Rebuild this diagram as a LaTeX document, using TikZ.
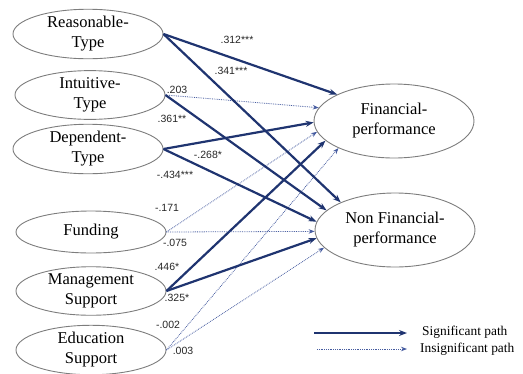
\documentclass[tikz,border=0pt]{standalone}
\usepackage{fontspec}
\setmainfont{Liberation Serif}
\newfontfamily\lblfont{Liberation Sans}
\usetikzlibrary{shapes.geometric,arrows.meta}
\definecolor{navy}{RGB}{31,52,112}
\definecolor{lnavy}{RGB}{70,92,160}
\definecolor{egray}{RGB}{125,125,125}
\tikzset{
  lvar/.style={ellipse,draw=egray,line width=0.9pt,minimum width=150pt,minimum height=42pt,inner sep=0pt,align=center,font=\fontsize{16.5}{20}\selectfont},
  rvar/.style={ellipse,draw=egray,line width=0.9pt,minimum width=160pt,minimum height=74pt,inner sep=0pt,align=center,font=\fontsize{16.5}{20}\selectfont},
  sig/.style={draw=navy,line width=2.2pt,-{Stealth[length=8pt,width=6pt]}},
  insig/.style={draw=lnavy,line width=0.8pt,densely dotted,-{Stealth[length=6pt,width=4.5pt]}},
  coef/.style={font=\lblfont\fontsize{10.5}{12}\selectfont,text=black!85,inner sep=0pt},
  legtext/.style={font=\fontsize{13.4}{15}\selectfont,anchor=west,inner sep=0pt}
}
\begin{document}
\begin{tikzpicture}[x=1pt,y=-1pt]
\useasboundingbox (0,0) rectangle (523,373);
% left variables
\node[lvar] (rea) at (88,34) {Reasonable-\\Type};
\node[lvar] (int) at (90,95) {Intuitive-\\Type};
\node[lvar] (dep) at (88,149) {Dependent-\\Type};
\node[lvar] (fun) at (91,232) {Funding};
\node[lvar] (man) at (91,291) {Management\\Support};
\node[lvar] (edu) at (91,350) {Education\\Support};
% right variables
\node[rvar] (fin) at (394,121) {Financial-\\performance};
\node[rvar] (non) at (395,230) {Non Financial-\\performance};
% paths to financial performance
\draw[sig]   (rea.east) -- (fin.155);
\draw[insig] (int.east) -- (fin.170);
\draw[sig]   (dep.east) -- (fin.181);
\draw[insig] (fun.east) -- (fin.188);
\draw[sig]   (man.east) -- (fin.196);
\draw[insig] (edu.east) -- (fin.206);
% paths to non financial performance
\draw[sig]   (rea.east) -- (non.153);
\draw[sig]   (int.east) -- (non.164);
\draw[sig]   (dep.east) -- (non.174);
\draw[insig] (fun.east) -- (non.181);
\draw[sig]   (man.east) -- (non.186);
\draw[insig] (edu.east) -- (non.194);
% coefficients
\node[coef] (c1) at (237,40) {.312***};
\node[coef] (c2) at (231,71) {.341***};
\node[coef] (c3) at (177,90) {.203};
\node[coef] (c4) at (172,119) {.361**};
\node[coef] (c5) at (208,155) {-.268*};
\node[coef] (c6) at (175,175) {-.434***};
\node[coef] (c7) at (167,208) {-.171};
\node[coef] (c8) at (175,243) {-.075};
\node[coef] (c9) at (167,267) {.446*};
\node[coef] (c10) at (177,298) {.325*};
\node[coef] (c11) at (168,325) {-.002};
\node[coef] (c12) at (183,351) {.003};
% legend
\coordinate (ls1) at (314,333);
\coordinate (le1) at (407,333);
\coordinate (ls2) at (317,349);
\coordinate (le2) at (407,349);
\draw[sig] (ls1) -- (le1);
\draw[insig] (ls2) -- (le2);
\node[legtext] (lt1) at (422,332) {Significant path};
\node[legtext] (lt2) at (420,349) {Insignificant path};
\end{tikzpicture}
\end{document}
